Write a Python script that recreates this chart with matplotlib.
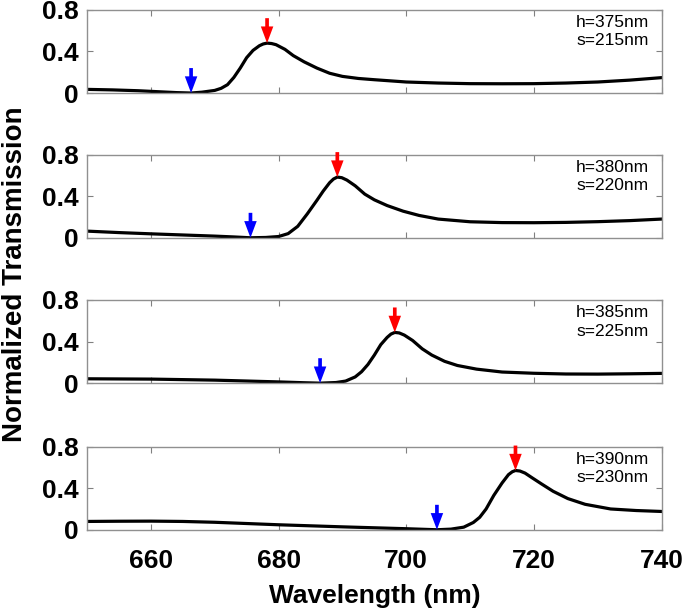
import numpy as np
import matplotlib
matplotlib.use("Agg")
import matplotlib.pyplot as plt

plt.rcParams["font.family"] = ["Liberation Sans", "DejaVu Sans"]

# transmission spectra, one per (h, s) pair
x1 = [650, 654, 658, 662, 664, 666.3, 668, 670, 671, 672, 673, 674, 675, 676, 677, 677.6, 678.2,
      678.9, 679.6, 681, 682.3, 684, 686, 688, 690, 692.5, 695, 700, 705, 710, 715, 720, 725, 730, 735, 740]
y1 = [0.035, 0.030, 0.022, 0.010, 0.004, 0.0, 0.008, 0.025, 0.045, 0.08, 0.15, 0.24, 0.34, 0.41, 0.455, 0.472, 0.48,
      0.476, 0.465, 0.42, 0.36, 0.30, 0.24, 0.19, 0.16, 0.14, 0.128, 0.106, 0.096, 0.09, 0.089, 0.09, 0.096, 0.106, 0.124, 0.148]

x2 = [650, 655, 660, 665, 670, 673, 675.6, 678, 680, 681.5, 683, 684.5, 686, 687, 688, 688.6, 689.2,
      689.9, 690.7, 692, 693.5, 695, 697, 699.5, 702, 705, 710, 715, 720, 725, 730, 735, 740]
y2 = [0.064, 0.05, 0.038, 0.027, 0.016, 0.008, 0.0, 0.003, 0.012, 0.04, 0.11, 0.23, 0.36, 0.45, 0.53, 0.565, 0.584,
      0.578, 0.555, 0.50, 0.42, 0.365, 0.31, 0.256, 0.215, 0.18, 0.154, 0.146, 0.145, 0.148, 0.155, 0.165, 0.18]

x3 = [650, 660, 670, 680, 684, 686.5, 689, 690.5, 692, 693, 694, 695, 696, 697, 697.6, 698.2,
      698.9, 699.7, 701, 702.5, 704, 706, 708, 711, 715, 720, 725, 730, 735, 740]
y3 = [0.042, 0.039, 0.029, 0.012, 0.004, 0.0, 0.006, 0.02, 0.06, 0.11, 0.18, 0.27, 0.37, 0.44, 0.472, 0.488,
      0.483, 0.462, 0.41, 0.33, 0.27, 0.21, 0.17, 0.135, 0.107, 0.095, 0.088, 0.087, 0.09, 0.094]

x4 = [650, 655, 660, 665, 670, 680, 690, 700, 704.8, 707, 709, 710.5, 711.5, 712.5, 713.7, 715, 716, 716.6, 717.1,
      717.8, 718.6, 719.7, 721.2, 723, 725.3, 728, 732, 736, 740]
y4 = [0.08, 0.082, 0.083, 0.08, 0.072, 0.048, 0.028, 0.010, 0.0, 0.006, 0.025, 0.07, 0.12, 0.2, 0.33, 0.45, 0.53, 0.558, 0.57,
      0.565, 0.545, 0.50, 0.44, 0.37, 0.30, 0.245, 0.20, 0.185, 0.176]

labels = ["h=375nm\ns=215nm", "h=380nm\ns=220nm", "h=385nm\ns=225nm", "h=390nm\ns=230nm"]
dip_x = [666.3, 675.6, 686.5, 704.8]    # blue arrows
peak_x = [678.2, 689.2, 698.2, 717.1]   # red arrows

xs = [x1, x2, x3, x4]
ys = [y1, y2, y3, y4]

fig = plt.figure(figsize=(6.85, 6.16), dpi=100)
bottoms = [0.849, 0.614, 0.378, 0.140]

for i in range(4):
    ax = fig.add_axes([0.127, bottoms[i], 0.839, 0.135])
    ax.plot(xs[i], ys[i], color="black", lw=2.3)
    ax.set_xlim(650, 740)
    ax.set_ylim(0, 0.8)
    ax.set_xticks([660, 680, 700, 720, 740])
    ax.set_yticks([0, 0.4, 0.8])
    ax.set_yticklabels(["0", "0.4", "0.8"])
    ax.tick_params(direction="in", top=True, right=True, length=4, width=0.8,
                   color="#808080", labelsize=19, pad=6)
    ax.tick_params(axis="x", pad=14)
    for lab in ax.get_xticklabels() + ax.get_yticklabels():
        lab.set_fontweight("bold")
    for sp in ax.spines.values():
        sp.set_color("#909090")
        sp.set_linewidth(1.0)
    if i < 3:
        ax.set_xticklabels([])

    ax.text(0.978, 0.94, labels[i], transform=ax.transAxes, ha="right", va="top",
            fontsize=12.5, linespacing=1.3)

    yd = np.interp(dip_x[i], xs[i], ys[i])
    yp = np.interp(peak_x[i], xs[i], ys[i])
    arrow = dict(arrowstyle="simple,head_length=1.0,head_width=0.75,tail_width=0.22",
                 lw=0, shrinkA=0, shrinkB=0, mutation_scale=12)
    ax.annotate("", xy=(dip_x[i], yd), xytext=(dip_x[i], yd + 0.24),
                arrowprops=dict(arrow, color="#0000ff"), annotation_clip=False)
    ax.annotate("", xy=(peak_x[i], yp), xytext=(peak_x[i], yp + 0.24),
                arrowprops=dict(arrow, color="#ff0000"), annotation_clip=False)

    if i == 3:
        ax.set_xlabel("Wavelength (nm)", fontsize=19, fontweight="bold", labelpad=8)

fig.text(0.022, 0.555, "Normalized Transmission", rotation=90, ha="center", va="center",
         fontsize=20, fontweight="bold")

fig.savefig("out.png", dpi=100)
